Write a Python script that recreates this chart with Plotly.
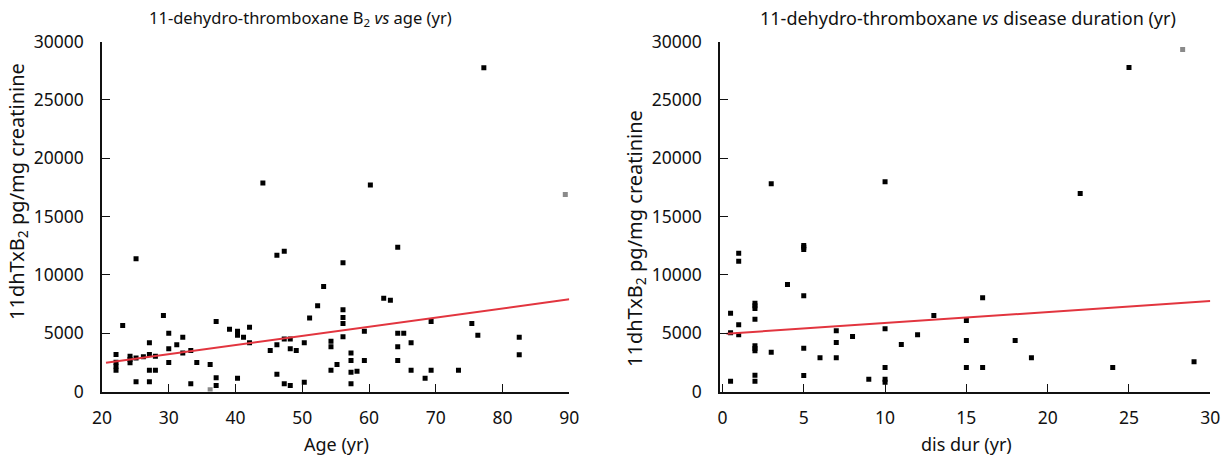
import plotly.graph_objects as go

# 11-dehydro-thromboxane B2 vs age
age_yr = [22.1, 22.1, 22.1, 22.1, 23.1, 24.2, 24.2, 24.2, 25.1, 25.1, 25.1, 26.2,
          27.1, 27.1, 27.1, 27.1, 28.0, 28.0, 29.2, 30.0, 30.0, 30.0, 31.2, 32.1,
          32.1, 33.3, 33.3, 34.2, 36.2, 37.1, 37.1, 37.1, 39.1, 40.3, 40.3, 40.3,
          41.2, 42.1, 42.1, 44.1, 45.2, 46.2, 46.2, 46.2, 47.3, 47.3, 47.3, 48.2,
          48.2, 48.2, 49.1, 50.3, 50.3, 51.1, 52.3, 53.2, 54.3, 54.3, 54.3, 55.2,
          56.1, 56.1, 56.1, 56.1, 56.1, 57.3, 57.3, 57.3, 57.3, 58.2, 59.3, 59.3,
          60.2, 62.2, 63.2, 64.3, 64.3, 64.3, 64.3, 65.2, 66.3, 66.3, 68.4, 69.3,
          69.3, 73.4, 75.4, 76.3, 77.2, 82.5, 82.5]
txb2_age = [3170, 2510, 2170, 1830, 5650, 3030, 2740, 2460, 11370, 2880, 830, 2970,
            4170, 3170, 1830, 830, 3030, 1830, 6510, 5000, 3660, 2480, 4000, 4650,
            3310, 3510, 660, 2480, 2310, 6000, 1170, 510, 5340, 5170, 4830, 1140,
            4650, 5510, 4170, 17880, 3510, 11680, 4000, 1480, 12020, 4510, 660, 4510,
            3660, 510, 3510, 4170, 800, 6310, 7340, 9000, 4310, 3830, 1830, 2310,
            11030, 7000, 6340, 5830, 4690, 3310, 2650, 1650, 660, 1740, 5170, 2650,
            17700, 8000, 7830, 12370, 5000, 3830, 2650, 5000, 4170, 1830, 1140, 6000,
            1830, 1830, 5830, 4830, 27740, 4650, 3140]
# faint points at the edges of the age panel
age_faint = [36.2, 89.4]
txb2_age_faint = [140, 16880]
# fitted trend line
age_fit_x = [20.6, 90.0]
age_fit_y = [2460, 7900]

# 11-dehydro-thromboxane vs disease duration
dur_yr = [0.5, 0.5, 0.5, 1, 1, 1, 1, 2, 2, 2, 2, 2, 2, 2, 2, 2, 3, 3, 4,
          5, 5, 5, 5, 5, 5, 6, 7, 7, 7, 8, 9, 10, 10, 10, 10, 10, 11, 12, 13,
          15, 15, 15, 16, 16, 18, 19, 22, 24, 25, 29]
txb2_dur = [6710, 5030, 880, 11850, 11170, 5720, 4860, 7570, 7340, 7110, 6200, 3920,
            3690, 3490, 1400, 880, 17800, 3370, 9170, 12510, 12370, 12170, 8200, 3710,
            1370, 2890, 5200, 4200, 2890, 4710, 1060, 17970, 5370, 2060, 1060, 800,
            4030, 4860, 6510, 6090, 4370, 2060, 8030, 2060, 4370, 2890, 16970, 2060,
            27770, 2550]
dur_faint = [28.3]
txb2_dur_faint = [29310]
dur_fit_x = [0.25, 30.0]
dur_fit_y = [4950, 7760]

y_ticks = [0, 5000, 10000, 15000, 20000, 25000, 30000]
y_tick_labels = ["0", "5000", "10000", "15000", "20000", "25000", "30000"]
age_ticks = [20, 30, 40, 50, 60, 70, 80, 90]
dur_ticks = [0, 5, 10, 15, 20, 25, 30]

FONT = "Noto Sans, DejaVu Sans, sans-serif"
INK = "#111111"
RED = "#e2353f"

W, H = 1224, 462


def px(x):
    return x / W


def py(y):
    return 1 - y / H


fig = go.Figure()

marker = dict(symbol="square", size=5, color="#000000", line=dict(width=0))
faint = dict(symbol="square", size=5, color="#8a8a8a", line=dict(width=0))

fig.add_trace(go.Scatter(x=age_yr, y=txb2_age, mode="markers", marker=marker,
                         xaxis="x", yaxis="y", showlegend=False))
fig.add_trace(go.Scatter(x=age_faint, y=txb2_age_faint, mode="markers", marker=faint,
                         xaxis="x", yaxis="y", showlegend=False))
fig.add_trace(go.Scatter(x=age_fit_x, y=age_fit_y, mode="lines",
                         line=dict(color=RED, width=2), xaxis="x", yaxis="y",
                         showlegend=False))

fig.add_trace(go.Scatter(x=dur_yr, y=txb2_dur, mode="markers", marker=marker,
                         xaxis="x2", yaxis="y2", showlegend=False))
fig.add_trace(go.Scatter(x=dur_faint, y=txb2_dur_faint, mode="markers", marker=faint,
                         xaxis="x2", yaxis="y2", showlegend=False))
fig.add_trace(go.Scatter(x=dur_fit_x, y=dur_fit_y, mode="lines",
                         line=dict(color=RED, width=2), xaxis="x2", yaxis="y2",
                         showlegend=False))

axis_common = dict(showgrid=False, zeroline=False, showline=True, linecolor=INK,
                   linewidth=1.5, ticks="inside", ticklen=8, tickwidth=1.2,
                   tickcolor=INK, tickfont=dict(family=FONT, size=17.5, color=INK),
                   mirror=False, automargin=False)

y_dom = [py(391.5), py(41.5)]

fig.update_layout(
    width=W, height=H,
    margin=dict(l=0, r=0, t=0, b=0, pad=0, autoexpand=False),
    paper_bgcolor="white", plot_bgcolor="white",
    font=dict(family=FONT, size=16, color=INK),
    xaxis=dict(domain=[px(102), px(569.3)], range=[20, 90], tickvals=age_ticks,
               anchor="y", ticklabelstandoff=10, **axis_common),
    yaxis=dict(domain=y_dom, range=[0, 30000], tickvals=y_ticks,
               ticktext=y_tick_labels, anchor="x", ticklabelstandoff=13,
               **axis_common),
    xaxis2=dict(domain=[px(720), px(1210.3)], range=[-0.15, 30], tickvals=dur_ticks,
                anchor="y2", ticklabelstandoff=10, **axis_common),
    yaxis2=dict(domain=y_dom, range=[0, 30000], tickvals=y_ticks,
                ticktext=y_tick_labels, anchor="x2", ticklabelstandoff=13,
                **axis_common),
)

# (text, x px, y px, angle, font size)
labels = [
    ("11-dehydro-thromboxane B<sub>2</sub> <i>vs</i> age (yr)", 300, 18, 0, 16.5),
    ("11-dehydro-thromboxane <i>vs</i> disease duration (yr)", 968, 18, 0, 18),
    ("Age (yr)", 336, 444, 0, 18),
    ("dis dur (yr)", 966, 444, 0, 18),
    ("11dhTxB<sub>2</sub> pg/mg creatinine", 17, 192, -90, 20),
    ("11dhTxB<sub>2</sub> pg/mg creatinine", 636, 239, -90, 20),
]
for text, x, y, angle, size in labels:
    fig.add_annotation(text=text, x=px(x), y=py(y), xref="paper", yref="paper",
                       xanchor="center", yanchor="middle", showarrow=False,
                       textangle=angle, font=dict(family=FONT, size=size, color=INK))

fig.write_html("out.html")
